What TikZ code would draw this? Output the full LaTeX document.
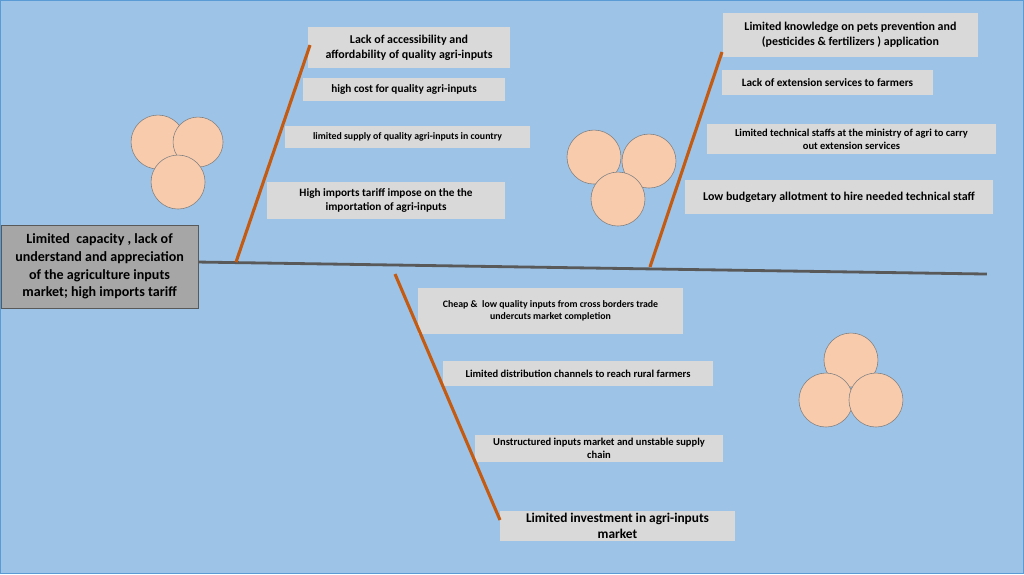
\documentclass[tikz,border=0pt]{standalone}
\usepackage{fontspec}
\setmainfont{Carlito}
\usetikzlibrary{fit}
\definecolor{bgblue}{HTML}{9DC3E6}
\definecolor{edgeblue}{HTML}{5B9BD5}
\definecolor{bone}{HTML}{C55A11}
\definecolor{spine}{HTML}{595959}
\definecolor{boxgray}{HTML}{D9D9D9}
\definecolor{headgray}{HTML}{A6A6A6}
\definecolor{peach}{HTML}{F8CBAD}
\tikzset{
  gbox/.style={fill=boxgray, inner sep=0pt},
  gtext/.style={inner sep=0pt, align=center, font=\fontsize{#1}{1.25\dimexpr#1pt\relax}\selectfont\bfseries},
  gtext/.default=8,
  bonestyle/.style={bone, line width=2.2pt},
  ball/.style={fill=peach, draw=gray, thin}
}
\begin{document}
\begin{tikzpicture}[x=0.025cm,y=-0.025cm]
            \newcommand{\egg}[3]{
                \filldraw[ball] (#1,#2) circle (#3)
            }
            \newcommand{\cause}[7]{
                \node[gbox, fit={(#2,#3)(#4,#5)}] (#1) {};
                \node[gtext=#6] at (#1.center) {#7}
            }
            \fill[bgblue] (0,0) rectangle (1024,574);
            \draw[edgeblue,thick] (0.5,0.5) rectangle (1023.5,573.5);

            \node[fill=headgray, draw=spine, inner sep=0pt, fit={(1,225)(198,308)}] (head) {};
            \node[gtext=10] at (head.center) {Limited\ \ capacity , lack of\\ understand and appreciation\\ of the agriculture inputs\\ market; high imports tariff};
            \coordinate (tail) at (987,274);
            \draw[spine, line width=2pt] (head.east |- 0,262) -- (tail);

            \coordinate (r1) at (236,262);
            \coordinate (t1) at (310,45);
            \coordinate (r2) at (650,267);
            \coordinate (t2) at (722,52);
            \coordinate (r3) at (395,274);
            \coordinate (t3) at (500,520);

            \cause{b1}{308}{27}{510}{68}{8.5}{Lack of accessibility and\\ affordability of quality agri-inputs};
            \cause{b2}{303}{78}{505}{101}{8}{high cost for quality agri-inputs};
            \cause{b3}{285}{126}{530}{148}{7}{limited supply of quality agri-inputs in country};
            \cause{b4}{267}{182}{505}{219}{8}{High imports tariff impose on the the\\ importation of agri-inputs};

            \cause{c1}{723}{13}{978}{57}{8.5}{Limited knowledge on pets prevention and\\ (pesticides \& fertilizers ) application};
            \cause{c2}{722}{70}{933}{95}{8}{Lack of extension services to farmers};
            \cause{c3}{707}{124}{996}{154}{7.5}{Limited technical staffs at the ministry of agri to carry\\ out extension services};
            \cause{c4}{685}{180}{993}{214}{8.5}{Low budgetary allotment to hire needed technical staff};

            \cause{d1}{418}{288}{683}{334}{7}{Cheap \&\ \ low quality inputs from cross borders trade\\ undercuts market completion};
            \cause{d2}{443}{361}{713}{386}{7.5}{Limited distribution channels to reach rural farmers};
            \cause{d3}{475}{435}{723}{462}{7.5}{Unstructured inputs market and unstable supply\\ chain};
            \cause{d4}{500}{511}{735}{541}{9.5}{Limited investment in agri-inputs\\ market};

            \draw[bonestyle] (r1) -- (t1);
            \draw[bonestyle] (r2) -- (t2);
            \draw[bonestyle] (r3) -- (t3);

            % eggs
            \egg{158}{142}{27};
            \egg{198}{142}{25};
            \egg{178}{182}{27};
            \egg{594}{157}{27};
            \egg{649}{161}{27};
            \egg{618}{199}{27};
            \egg{851}{360}{27};
            \egg{826}{400}{27};
            \egg{876}{400}{27};
\end{tikzpicture}
\end{document}
